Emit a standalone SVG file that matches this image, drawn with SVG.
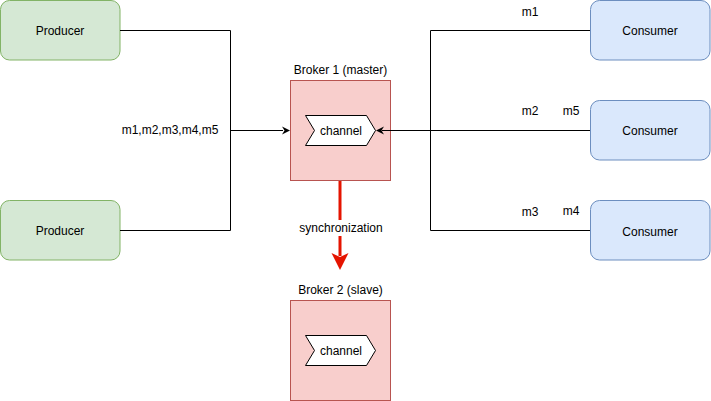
<svg xmlns="http://www.w3.org/2000/svg" width="711" height="401" viewBox="0 0 711 401">
  <style>
    text { font-family: "Liberation Sans", Arial, sans-serif; font-size: 12px; fill: #000; text-anchor: middle; dominant-baseline: central; }
    .producer { fill: #d5e8d4; stroke: #82b366; stroke-width: 1; }
    .consumer { fill: #dae8fc; stroke: #6c8ebf; stroke-width: 1; }
    .broker { fill: #f8cecc; stroke: #b85450; stroke-width: 1; }
    .channel { fill: #fff; stroke: #000; stroke-width: 1; }
    .wire { fill: none; stroke: #000; stroke-width: 1; }
    .sync { fill: none; stroke: #e51400; stroke-width: 3; }
  </style>

  <rect width="711" height="401" fill="#fff"/>

  <g id="producer-1">
    <rect class="producer" x="0.5" y="0.5" width="119.5" height="59.5" rx="9" ry="9"/>
    <text x="60" y="30.5">Producer</text>
  </g>
  <g id="producer-2">
    <rect class="producer" x="0.5" y="200.5" width="119.5" height="59.5" rx="9" ry="9"/>
    <text x="60" y="230.5">Producer</text>
  </g>

  <g id="consumer-1">
    <rect class="consumer" x="590.5" y="0.5" width="119.5" height="59.5" rx="9" ry="9"/>
    <text x="650" y="30.5">Consumer</text>
  </g>
  <g id="consumer-2">
    <rect class="consumer" x="590.5" y="100.5" width="119.5" height="59.5" rx="9" ry="9"/>
    <text x="650" y="130.5">Consumer</text>
  </g>
  <g id="consumer-3">
    <rect class="consumer" x="590.5" y="200.5" width="119.5" height="59.5" rx="9" ry="9"/>
    <text x="650" y="231.5">Consumer</text>
  </g>

  <g id="broker-1">
    <text x="340.5" y="70">Broker 1 (master)</text>
    <rect class="broker" x="290.5" y="80.5" width="100" height="100"/>
    <path class="channel" d="M305.5,115.5 H366.5 L375.5,130.5 L366.5,145.5 H305.5 L314.5,130.5 Z"/>
    <text x="341" y="130.5">channel</text>
  </g>

  <g id="broker-2">
    <text x="340.5" y="290">Broker 2 (slave)</text>
    <rect class="broker" x="290.5" y="300.5" width="100" height="100"/>
    <path class="channel" d="M305.5,335.5 H366.5 L375.5,350.5 L366.5,365.5 H305.5 L314.5,350.5 Z"/>
    <text x="341" y="350.5">channel</text>
  </g>

  <!-- connectors, drawn on top of the brokers -->
  <g id="connectors">
    <path class="wire" d="M120,30.5 H230.5 V230.5 H120"/>
    <path class="wire" d="M230.5,130.5 H283"/>
    <path d="M282,126.5 L290,130.5 L282,134.5 L284.5,130.5 Z" fill="#000"/>
    <path class="wire" d="M590,30.5 H430.5 V230.5 H590"/>
    <path class="wire" d="M590,130.5 H382"/>
    <path d="M384,126.5 L376,130.5 L384,134.5 L381.5,130.5 Z" fill="#000"/>
    <path class="sync" d="M340,181 V256"/>
    <path d="M331.5,253 L340,270 L348.5,253 L340,257 Z" fill="#e51400"/>
    <rect x="298" y="220" width="86" height="16" fill="#fff"/>
    <text x="341" y="228">synchronization</text>
    <text x="170" y="130">m1,m2,m3,m4,m5</text>
    <text x="530" y="12">m1</text>
    <text x="530" y="111">m2</text>
    <text x="571" y="111">m5</text>
    <text x="530" y="212">m3</text>
    <text x="571" y="211">m4</text>
  </g>
</svg>
